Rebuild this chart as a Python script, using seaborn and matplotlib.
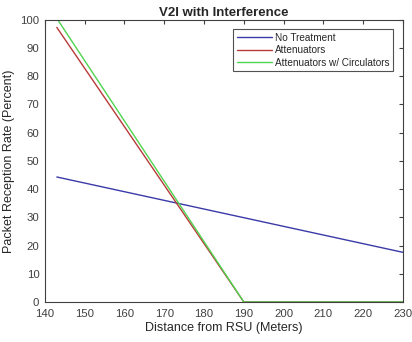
import matplotlib.pyplot as plt
import seaborn as sns
import pandas as pd

# distances (meters) and packet reception rate (percent)
dist_none = [143, 230]
prr_none = [44.3, 17.6]

dist_att = [143, 190, 230]
prr_att = [97.3, 0, 0]

dist_circ = [143, 190, 230]
prr_circ = [100.5, 0, 0]

series_names = ['No Treatment', 'Attenuators', 'Attenuators w/ Circulators']
colors = ['#3a3aa8', '#b83a3a', '#4fd44f']

df = pd.concat([
    pd.DataFrame({'dist': dist_none, 'prr': prr_none, 'series': series_names[0]}),
    pd.DataFrame({'dist': dist_att, 'prr': prr_att, 'series': series_names[1]}),
    pd.DataFrame({'dist': dist_circ, 'prr': prr_circ, 'series': series_names[2]}),
])

sns.set_style("white")
plt.rcParams['font.family'] = ['Liberation Sans', 'DejaVu Sans']

fig = plt.figure(figsize=(4.12, 3.42), dpi=100)
ax = fig.add_axes([0.109, 0.117, 0.869, 0.825])

sns.lineplot(data=df, x='dist', y='prr', hue='series', palette=colors,
             hue_order=series_names, linewidth=1.0, ax=ax, sort=False)

ax.set_xlim(140, 230)
ax.set_ylim(0, 100)
ax.set_xticks(range(140, 231, 10))
ax.set_yticks(range(0, 101, 10))
ax.tick_params(direction='in', length=3, top=True, right=True,
               labelsize=8.2, colors='#404040', labelcolor='#404040')
ax.tick_params(axis='x', pad=5)
ax.tick_params(axis='y', pad=4)
for s in ax.spines.values():
    s.set_color('#404040')
    s.set_linewidth(0.8)

ax.set_xlabel('Distance from RSU (Meters)', fontsize=9, color='#262626', labelpad=2)
ax.set_ylabel('Packet Reception Rate (Percent)', fontsize=9, color='#262626')
ax.set_title('V2I with Interference', fontsize=9.5, fontweight='bold', pad=3)

leg = ax.legend(loc='upper right', fontsize=7.2, frameon=True, fancybox=False,
                borderpad=0.35, labelspacing=0.25, handlelength=3.5,
                handletextpad=0.3, bbox_to_anchor=(0.985, 0.985))
leg.get_frame().set_edgecolor('#262626')
leg.get_frame().set_linewidth(0.8)

fig.savefig('out.png', dpi=100, facecolor='white')
